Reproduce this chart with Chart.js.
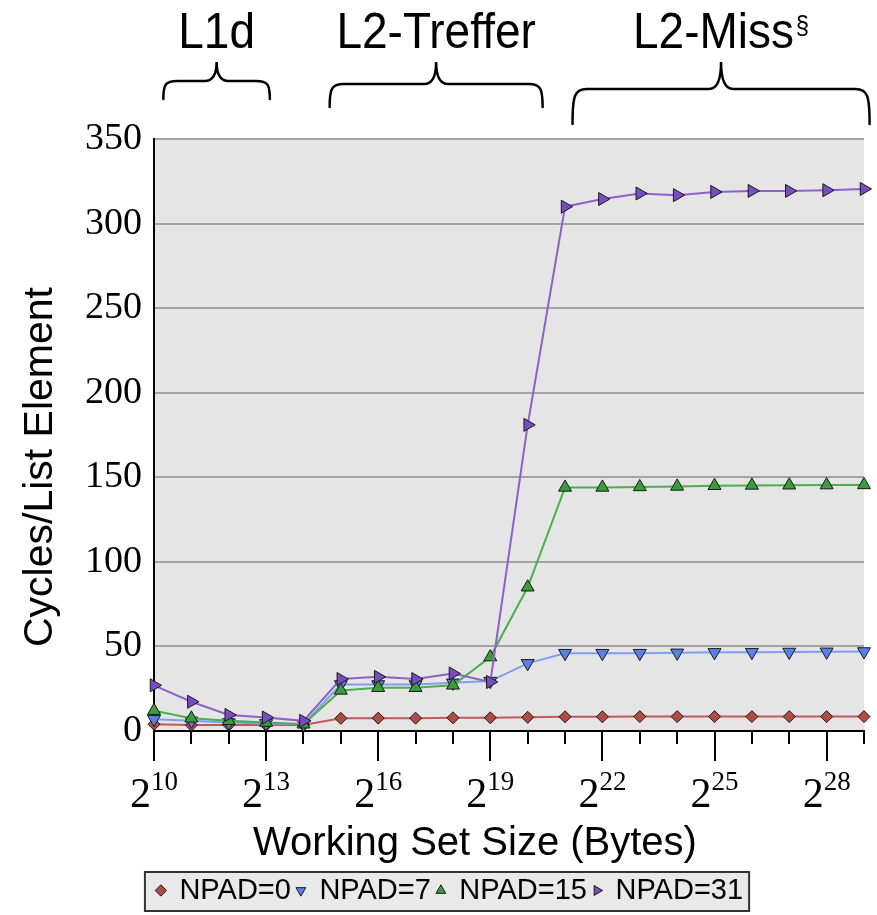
<!DOCTYPE html>
<html><head><meta charset="utf-8">
<script src="https://cdn.jsdelivr.net/npm/chart.js@4/dist/chart.umd.min.js"></script>
<style>html,body{margin:0;padding:0;background:#fff}</style>
</head><body>
<canvas id="c" width="877" height="915"></canvas>
<script>
// ---- data (x = log2 of working set size in bytes) ----
const exponents = [10,11,12,13,14,15,16,17,18,19,20,21,22,23,24,25,26,27,28,29];
const npad0  = [4, 3.5, 3.5, 3.5, 3.5, 7.5, 7.6, 7.6, 7.8, 7.8, 8.1, 8.4, 8.4, 8.5, 8.5, 8.5, 8.5, 8.5, 8.5, 8.5];
const npad7  = [7, 6, 5, 4.5, 4, 27.5, 27.5, 27.5, 28.5, 29.5, 40, 46, 46, 46, 46.2, 46.5, 46.6, 46.7, 46.8, 47];
const npad15 = [12, 7.5, 6, 5, 4, 24, 25.6, 25.6, 27, 43.7, 85, 144, 144, 144.3, 144.6, 145, 145.2, 145.3, 145.4, 145.5];
const npad31 = [27, 17.3, 9.5, 8, 6, 30.7, 32, 30.7, 34, 29, 181, 310, 314.5, 317.8, 316.8, 318.7, 319.3, 319.3, 319.7, 320.5];
const seriesNames = ['NPAD=0', 'NPAD=7', 'NPAD=15', 'NPAD=31'];
const xLabelExponents = [10, 13, 16, 19, 22, 25, 28];
const regionLabels = ['L1d', 'L2-Treffer', 'L2-Miss'];
const regionMarks = ['', '', '§'];
const regionSpans = [[10.25, 13.1], [14.7, 20.4], [21.2, 29.15]];
const yTitle = 'Cycles/List Element';
const xTitle = 'Working Set Size (Bytes)';

const pts = arr => exponents.map((e, i) => ({x: e, y: arr[i]}));

const decor = {
  id: 'decor',
  beforeDraw(chart) {
    const {ctx, chartArea: a} = chart;
    ctx.save();
    ctx.fillStyle = '#e5e5e5';
    ctx.fillRect(a.left, a.top, a.right - a.left, a.bottom - a.top);
    const hb = chart.legend && chart.legend.legendHitBoxes;
    if (hb && hb.length) {
      const last = hb[hb.length - 1];
      const l = hb[0].left - 12, r = last.left + last.width + 6;
      const t = hb[0].top - 4, h = 39;
      ctx.fillStyle = '#e9e9e9';
      ctx.fillRect(l, t, r - l, h);
      ctx.strokeStyle = '#333';
      ctx.lineWidth = 2;
      ctx.strokeRect(l, t, r - l, h);
    }
    ctx.restore();
  },
  afterDraw(chart) {
    const {ctx, chartArea: a} = chart;
    const x = chart.scales.x;
    ctx.save();
    // x tick marks
    ctx.strokeStyle = '#000';
    ctx.lineWidth = 2;
    exponents.forEach(e => {
      const px = Math.round(x.getPixelForValue(e));
      const long = xLabelExponents.includes(e);
      ctx.beginPath();
      ctx.moveTo(px, a.bottom);
      ctx.lineTo(px, a.bottom + (long ? 30 : 13));
      ctx.stroke();
    });
    // x tick labels 2^n
    ctx.fillStyle = '#000';
    ctx.textBaseline = 'alphabetic';
    ctx.textAlign = 'left';
    xLabelExponents.forEach(e => {
      const px = x.getPixelForValue(e);
      ctx.font = '42px "Liberation Serif"';
      const wb = ctx.measureText('2').width;
      ctx.font = '27px "Liberation Serif"';
      const ws = ctx.measureText(String(e)).width;
      const start = px - (wb + ws) / 2;
      ctx.font = '42px "Liberation Serif"';
      ctx.fillText('2', start, a.bottom + 76);
      ctx.font = '27px "Liberation Serif"';
      ctx.fillText(String(e), start + wb, a.bottom + 59);
    });
    // axis titles
    ctx.font = '40px "Liberation Sans"';
    ctx.textAlign = 'center';
    ctx.fillText(xTitle, 475, 855);
    ctx.save();
    ctx.translate(52, 467);
    ctx.rotate(-Math.PI / 2);
    ctx.font = '41px "Liberation Sans"';
    ctx.fillText(yTitle, 0, 0);
    ctx.restore();
    // region braces and labels
    const braceGeom = [[62, 81, 99], [62, 84, 107], [62, 89, 124]];
    ctx.lineWidth = 2.5;
    ctx.lineCap = 'round';
    regionSpans.forEach((s, i) => {
      const x1 = x.getPixelForValue(s[0]);
      const x2 = x.getPixelForValue(s[1]);
      const xm = (x1 + x2) / 2;
      const [yTip, yH, yEnd] = braceGeom[i];
      const c = 14;
      ctx.beginPath();
      ctx.moveTo(x1, yEnd);
      ctx.bezierCurveTo(x1, yH + (yEnd - yH) * 0.2, x1 + 2, yH, x1 + c, yH);
      ctx.lineTo(xm - 12, yH);
      ctx.quadraticCurveTo(xm, yH, xm, yTip);
      ctx.quadraticCurveTo(xm, yH, xm + 12, yH);
      ctx.lineTo(x2 - c, yH);
      ctx.bezierCurveTo(x2 - 2, yH, x2, yH + (yEnd - yH) * 0.2, x2, yEnd);
      ctx.stroke();
      ctx.save();
      ctx.translate(xm, 48);
      ctx.scale(0.92, 1);
      ctx.font = '50px "Liberation Sans"';
      const w1 = ctx.measureText(regionLabels[i]).width;
      ctx.font = '26px "Liberation Sans"';
      const w2 = regionMarks[i] ? ctx.measureText(regionMarks[i]).width + 2 : 0;
      const st = -(w1 + w2) / 2;
      ctx.textAlign = 'left';
      ctx.font = '50px "Liberation Sans"';
      ctx.fillText(regionLabels[i], st, 0);
      if (regionMarks[i]) {
        ctx.font = '26px "Liberation Sans"';
        ctx.fillText(regionMarks[i], st + w1 + 2, -14);
      }
      ctx.restore();
    });
    ctx.restore();
  }
};

const common = {
  borderWidth: 2, pointBorderColor: '#1a1a1a', pointBorderWidth: 1,
  tension: 0, clip: false, fill: false
};

new Chart(document.getElementById('c'), {
  type: 'line',
  data: {
    datasets: [
      Object.assign({}, common, {label: seriesNames[0], data: pts(npad0), borderColor: '#c05a5a',
        backgroundColor: '#b24a46', pointBackgroundColor: '#b24a46', pointStyle: 'rectRot', pointRadius: 6, order: 3}),
      Object.assign({}, common, {label: seriesNames[1], data: pts(npad7), borderColor: '#7f9df2',
        backgroundColor: '#5b80e8', pointBackgroundColor: '#5b80e8', pointStyle: 'triangle', pointRotation: 180, pointRadius: 7.5, order: 2}),
      Object.assign({}, common, {label: seriesNames[2], data: pts(npad15), borderColor: '#4cae4c',
        backgroundColor: '#3a9c3a', pointBackgroundColor: '#3a9c3a', pointStyle: 'triangle', pointRotation: 0, pointRadius: 7.5, order: 1}),
      Object.assign({}, common, {label: seriesNames[3], data: pts(npad31), borderColor: '#8b62c9',
        backgroundColor: '#7a4cc0', pointBackgroundColor: '#7a4cc0', pointStyle: 'triangle', pointRotation: 90, pointRadius: 7.5, order: 0})
    ]
  },
  options: {
    responsive: false,
    animation: false,
    devicePixelRatio: 1,
    events: [],
    layout: {padding: {top: 139, right: 13, bottom: 0, left: 36}},
    plugins: {
      tooltip: {enabled: false},
      title: {display: false},
      legend: {
        display: true,
        position: 'bottom',
        labels: {
          usePointStyle: true, boxWidth: 8, boxHeight: 8, padding: 6,
          color: '#000', font: {family: 'Liberation Sans', size: 29},
          sort: (a, b) => a.datasetIndex - b.datasetIndex
        }
      }
    },
    scales: {
      x: {
        type: 'linear', min: 10, max: 29,
        grid: {display: true, drawOnChartArea: false, drawTicks: false},
        border: {display: true, color: '#000', width: 2},
        ticks: {display: false, stepSize: 1},
        afterFit(s) { s.height = 139; }
      },
      y: {
        min: 0, max: 350,
        ticks: {stepSize: 50, color: '#000', padding: 12, font: {family: 'Liberation Serif', size: 38}},
        grid: {drawTicks: false, lineWidth: 2, color: c => c.tick && c.tick.value === 0 ? 'rgba(0,0,0,0)' : '#a3a3a3'},
        border: {display: true, color: '#000', width: 2},
        afterFit(s) { s.width = 118; }
      }
    }
  },
  plugins: [decor]
});
</script>
</body></html>
